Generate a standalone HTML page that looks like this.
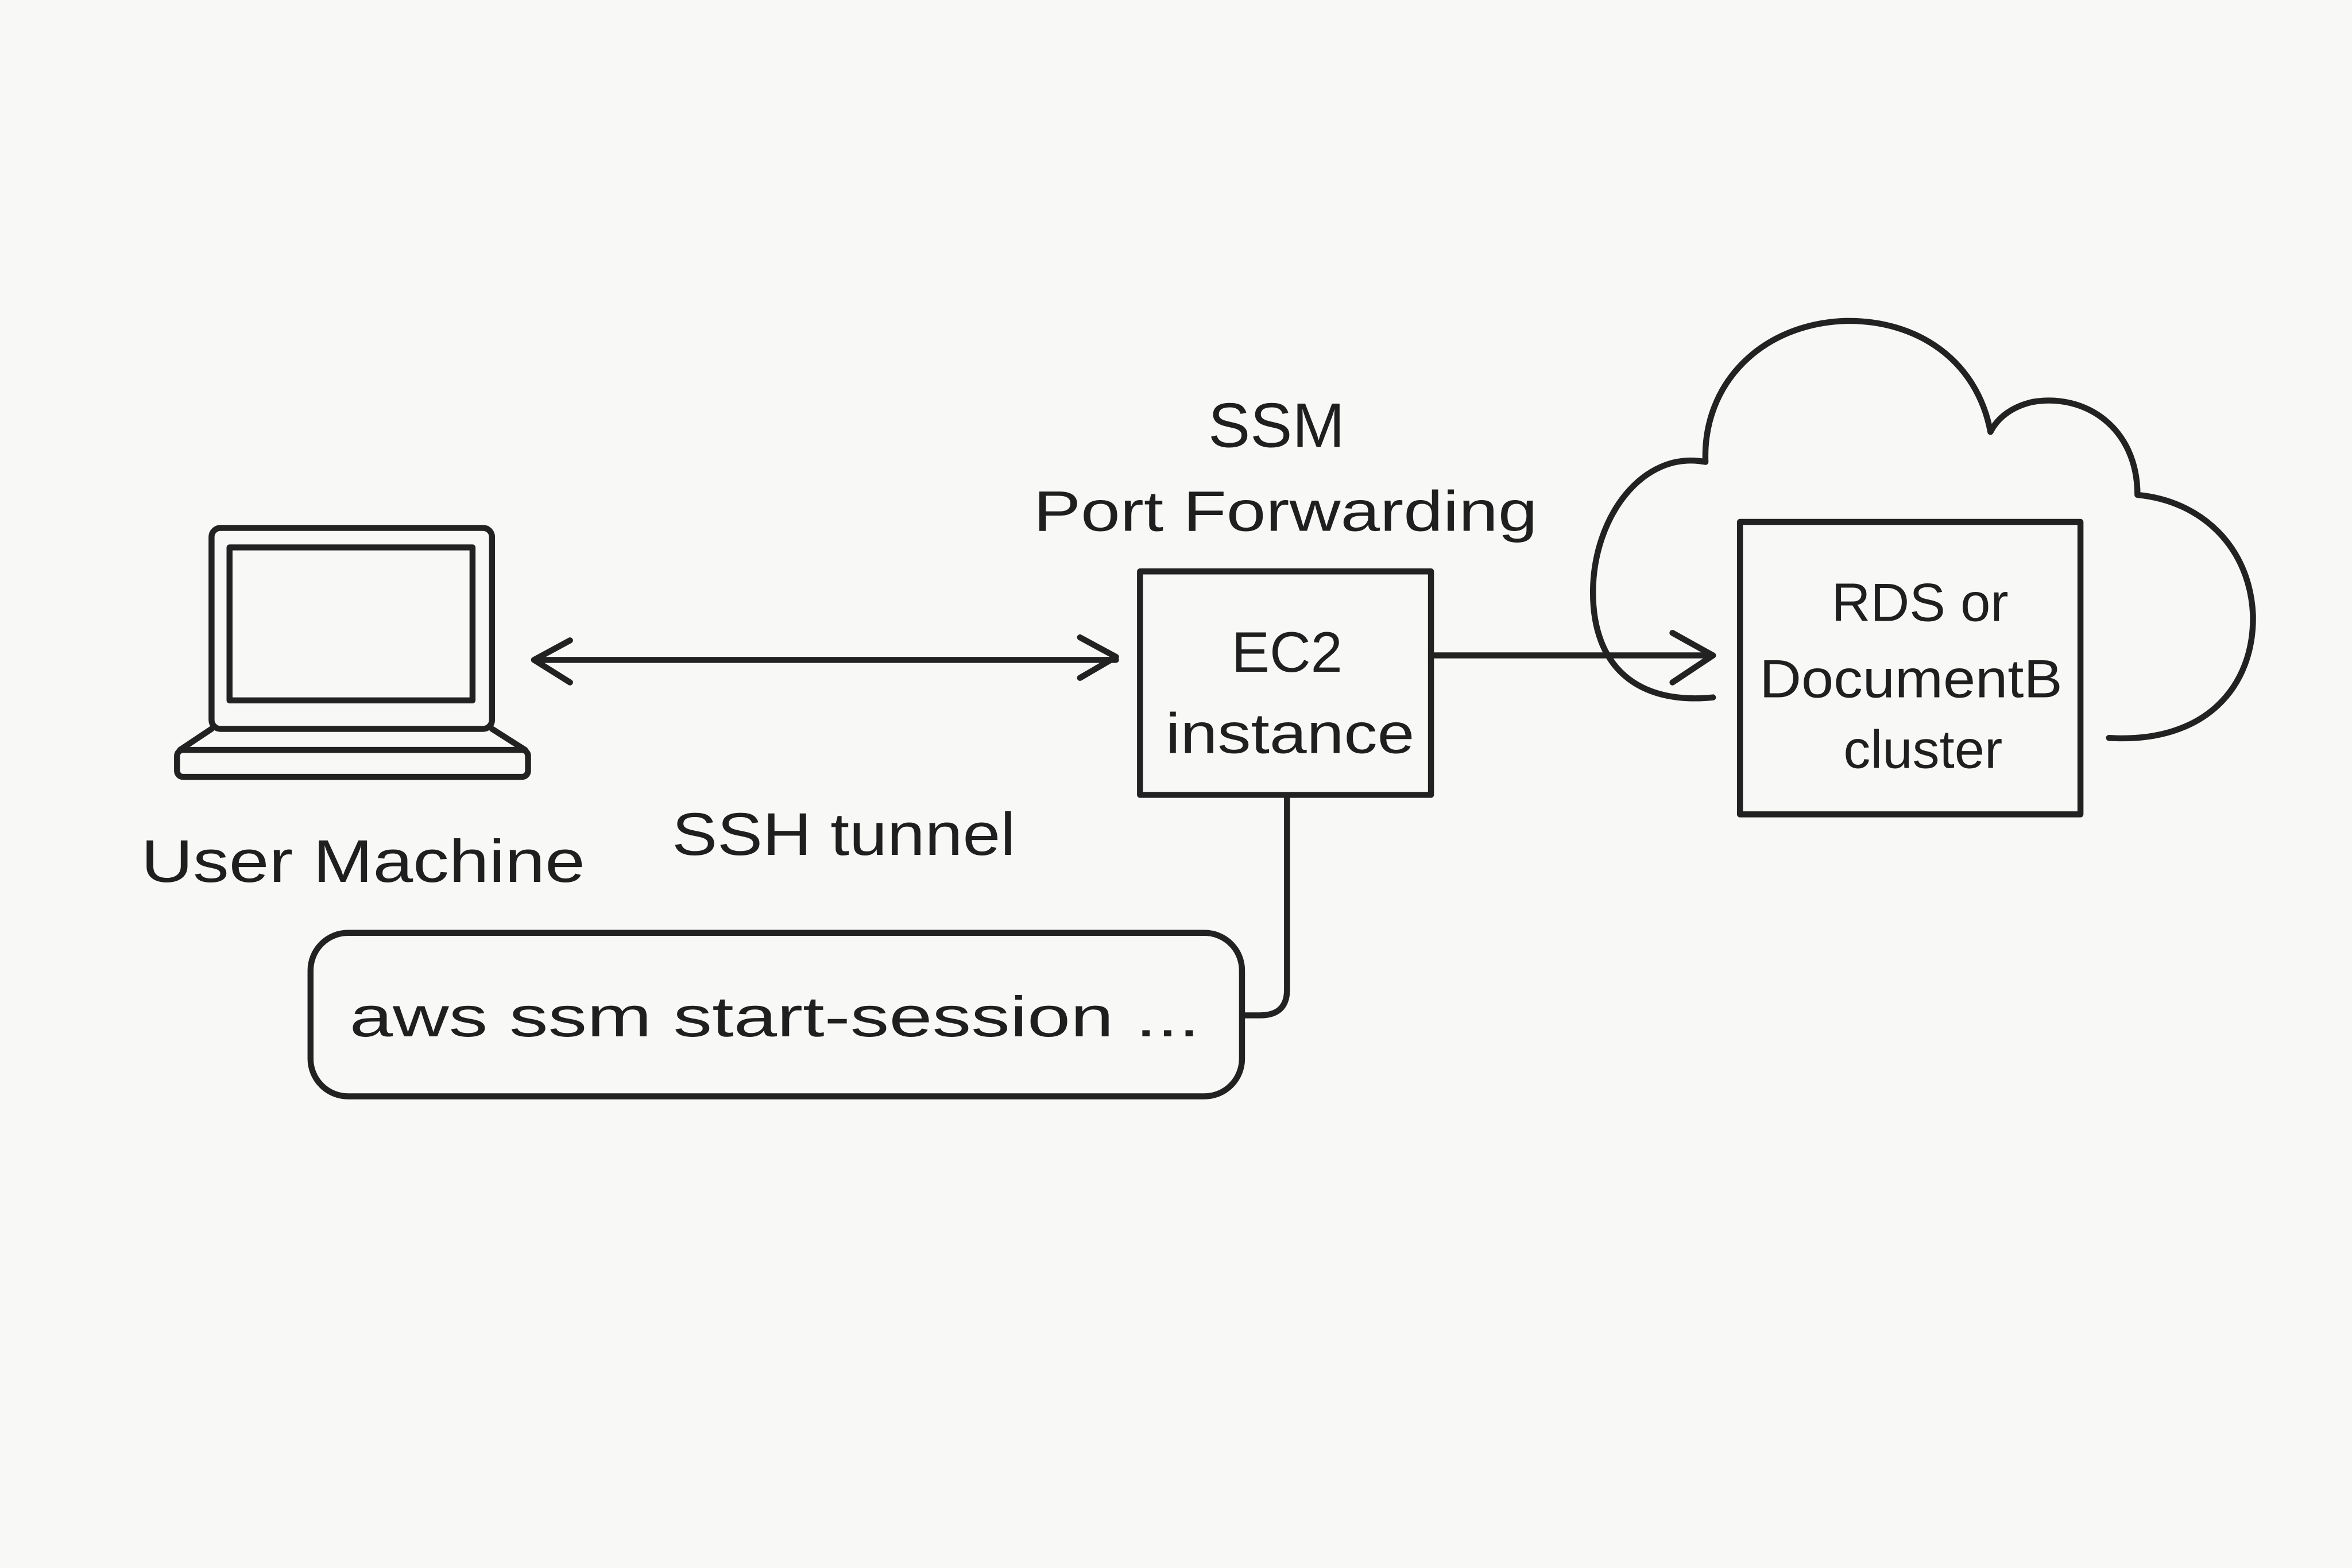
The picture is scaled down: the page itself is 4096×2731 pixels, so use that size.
<!DOCTYPE html>
<html><head><meta charset="utf-8"><style>
html,body{margin:0;padding:0;background:#f8f8f7;}
svg{display:block}
text{font-family:"Liberation Sans",sans-serif;fill:#1f1f1f}
</style></head><body>
<svg width="4096" height="2731" viewBox="0 0 1568 1045.5" xmlns="http://www.w3.org/2000/svg">
<rect width="1568" height="1045.5" fill="#f8f8f7"/>
<g fill="none" stroke="#222" stroke-width="4" stroke-linecap="round" stroke-linejoin="round">
<!-- laptop -->
<rect x="141" y="352" width="187" height="134" rx="6"/>
<rect x="153" y="365" width="162" height="102"/>
<path d="M141,486 L120,500 M328,486 L350,500"/>
<rect x="118" y="500" width="234" height="18" rx="4"/>
<!-- double arrow -->
<path d="M356,440 L744,440"/>
<path d="M380,427 L356,440 L380,455"/>
<path d="M720,425 L744,438 L720,452"/>
<!-- EC2 box -->
<rect x="760" y="381" width="194" height="149"/>
<!-- arrow to RDS -->
<path d="M955,437 L1142,437"/>
<path d="M1115,422 L1142,437 L1115,455"/>
<!-- cloud -->
<path d="M1406,492 C1470,496 1503,458 1502,410 C1500,365 1468,334 1425,330 C1425,285 1390,262 1355,268 C1342,271 1332,278 1327,288 C1318,240 1278,213 1230,214 C1175,216 1135,255 1137,308 C1095,300 1062,345 1062,395 C1062,445 1092,470 1142,465"/>
<!-- RDS box -->
<rect x="1160" y="348" width="227" height="195"/>
<!-- connector -->
<path d="M858,531 L858,660 Q858,677 840,677 L829,677"/>
<!-- command box -->
<rect x="207" y="622" width="621" height="109" rx="25"/>
</g>
<text x="94" y="588" font-size="40" textLength="296" lengthAdjust="spacingAndGlyphs">User Machine</text>
<text x="448" y="570" font-size="40" textLength="229" lengthAdjust="spacingAndGlyphs">SSH tunnel</text>
<text x="851" y="298" font-size="42" text-anchor="middle">SSM</text>
<text x="689" y="354" font-size="38" textLength="336" lengthAdjust="spacingAndGlyphs">Port Forwarding</text>
<text x="858" y="448" font-size="38" text-anchor="middle">EC2</text>
<text x="777" y="502" font-size="38" textLength="166" lengthAdjust="spacingAndGlyphs">instance</text>
<text x="1280" y="414" font-size="36" text-anchor="middle">RDS or</text>
<text x="1173" y="465" font-size="36" textLength="202" lengthAdjust="spacingAndGlyphs">DocumentB</text>
<text x="1282" y="512" font-size="36" text-anchor="middle">cluster</text>
<text x="233" y="691" font-size="38" textLength="567" lengthAdjust="spacingAndGlyphs">aws ssm start-session ...</text>
</svg>
</body></html>
